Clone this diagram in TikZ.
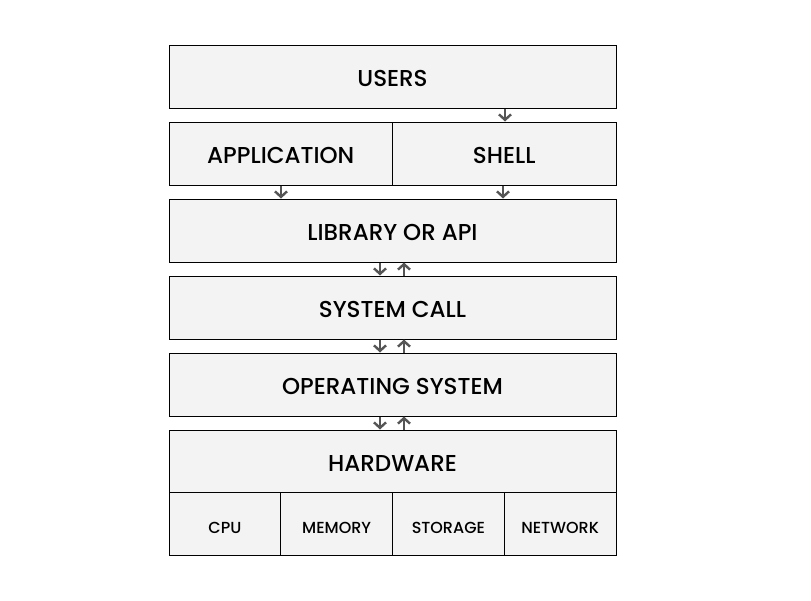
\documentclass[tikz,border=0pt]{standalone}
\usepackage{fontspec}
\setmainfont{Poppins}[UprightFont=* Medium]
\usetikzlibrary{arrows.meta}
\definecolor{boxfill}{HTML}{F3F3F3}
\definecolor{arr}{HTML}{555555}
\tikzset{
  layer/.style={draw=black, line width=1pt, fill=boxfill, minimum height=63pt, inner sep=0pt, text height=20pt, text depth=0pt, font=\fontsize{23}{27}\selectfont},
  part/.style={draw=black, line width=1pt, fill=boxfill, minimum height=63pt, inner sep=0pt, text height=19pt, text depth=0pt, font=\fontsize{16}{19}\selectfont},
  flow/.style={draw=arr, line width=2.4pt, -{Straight Barb[length=5.5pt,width=12pt,line width=2.4pt]}}
}
\begin{document}
\begin{tikzpicture}[x=1pt,y=-1pt]
\useasboundingbox (0,0) rectangle (811,600);
\node[layer, minimum width=447pt] (users) at (392.5,76.5) {USERS};
\node[layer, minimum width=223.5pt] (app) at (280.75,153.5) {APPLICATION};
\node[layer, minimum width=223.5pt] (shell) at (504.25,153.5) {SHELL};
\node[layer, minimum width=447pt] (lib) at (392.5,230.5) {LIBRARY OR API};
\node[layer, minimum width=447pt] (sys) at (392.5,307.5) {SYSTEM CALL};
\node[layer, minimum width=447pt] (os) at (392.5,384.5) {OPERATING SYSTEM};
\node[layer, minimum width=447pt, minimum height=62pt] (hw) at (392.5,461) {HARDWARE};
\node[part, minimum width=111.75pt] (cpu) at (224.875,523.5) {CPU};
\node[part, minimum width=111.75pt] (mem) at (336.625,523.5) {MEMORY};
\node[part, minimum width=111.75pt] (sto) at (448.375,523.5) {STORAGE};
\node[part, minimum width=111.75pt] (net) at (560.125,523.5) {NETWORK};
% arrows
\draw[flow] (users.south -| 505,0) -- (shell.north -| 505,0);
\draw[flow] (app.south -| 281,0) -- (lib.north -| 281,0);
\draw[flow] (shell.south -| 503,0) -- (lib.north -| 503,0);
\draw[flow] (lib.south -| 380,0) -- (sys.north -| 380,0);
\draw[flow] (sys.north -| 404,0) -- (lib.south -| 404,0);
\draw[flow] (sys.south -| 380,0) -- (os.north -| 380,0);
\draw[flow] (os.north -| 404,0) -- (sys.south -| 404,0);
\draw[flow] (os.south -| 380,0) -- (hw.north -| 380,0);
\draw[flow] (hw.north -| 404,0) -- (os.south -| 404,0);
\end{tikzpicture}
\end{document}
